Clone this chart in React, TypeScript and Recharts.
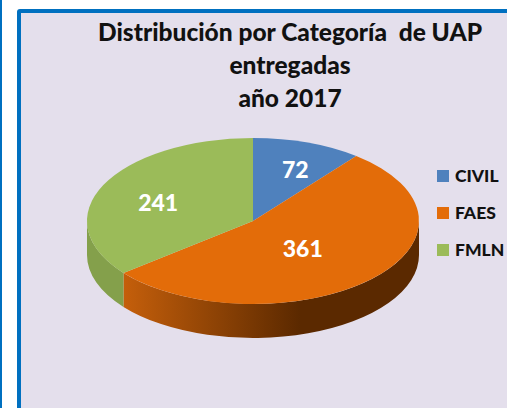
import { Pie, PieChart, Cell, Legend } from 'recharts'

const categories = ['CIVIL', 'FAES', 'FMLN']
const values = [72, 361, 241]
const topColors = ['#4F81BD', '#E36C09', '#9BBB59']
const wallColors = ['#3F6797', 'url(#faesWall)', '#84A04B']
const titleLines = ['Distribución por Categoría  de UAP', 'entregadas', 'año 2017']
const titleBaselines = [41, 74, 107]
// how far out each value label sits, as a share of the radius, plus a nudge in px
const labelRadius = [0.7, 0.44, 0.6]
const labelDx = [4, -2, -5]
const labelDy = [3, 1, 3]

const chartData = categories.map((name, i) => ({ name, value: values[i] }))

const TILT = 0.5
const DEPTH = 34
const RAD = Math.PI / 180

// recharts hands us a circular sector, squash it to look like the tilted disc
function TopFace(props: any) {
  const { cx, cy, outerRadius: r, startAngle, endAngle, fill } = props
  const x1 = cx + r * Math.cos(-startAngle * RAD)
  const y1 = cy + r * TILT * Math.sin(-startAngle * RAD)
  const x2 = cx + r * Math.cos(-endAngle * RAD)
  const y2 = cy + r * TILT * Math.sin(-endAngle * RAD)
  const large = Math.abs(startAngle - endAngle) > 180 ? 1 : 0
  return <path d={`M${cx},${cy}L${x1},${y1}A${r},${r * TILT} 0 ${large} 1 ${x2},${y2}Z`} fill={fill} />
}

// only the front half of the rim is visible
function SideWall(props: any) {
  const { cx, cy, outerRadius: r, startAngle, endAngle, fill } = props
  const from = Math.max(-startAngle, 0)
  const to = Math.min(-endAngle, 180)
  if (to <= from) return null
  const x1 = cx + r * Math.cos(from * RAD)
  const y1 = cy + r * TILT * Math.sin(from * RAD)
  const x2 = cx + r * Math.cos(to * RAD)
  const y2 = cy + r * TILT * Math.sin(to * RAD)
  return (
    <path
      d={`M${x1},${y1}A${r},${r * TILT} 0 0 1 ${x2},${y2}L${x2},${y2 + DEPTH}A${r},${r * TILT} 0 0 0 ${x1},${y1 + DEPTH}Z`}
      fill={fill}
    />
  )
}

function valueLabel(props: any) {
  const { cx, cy, midAngle, outerRadius, value, index } = props
  const r = outerRadius * labelRadius[index]
  return (
    <text
      x={cx + r * Math.cos(-midAngle * RAD) + labelDx[index]}
      y={cy + r * TILT * Math.sin(-midAngle * RAD) + labelDy[index]}
      fill="#FFFFFF"
      fontSize={23}
      fontWeight={900}
      textAnchor="middle"
      dominantBaseline="central"
    >
      {value}
    </text>
  )
}

function LegendList() {
  return (
    <div>
      {categories.map((name, i) => (
        <div key={name} style={{ display: 'flex', alignItems: 'center', height: 37 }}>
          <span style={{ width: 12, height: 12, background: topColors[i], marginRight: 6 }} />
          <span style={{ fontSize: 17.5, fontWeight: 900, color: '#111' }}>{name}</span>
        </div>
      ))}
    </div>
  )
}

export default function App() {
  return (
    <div style={{ position: 'absolute', left: 0, top: 0, width: 507, height: 408, overflow: 'hidden', background: '#fff', fontFamily: 'Lato' }}>
      <div style={{ position: 'absolute', left: 0, top: 0, width: 2, height: 408, background: '#0070C0' }} />
      <div
        style={{
          position: 'absolute',
          left: 17,
          top: 9,
          width: 500,
          height: 420,
          boxSizing: 'border-box',
          background: '#E4DFEC',
          border: '4px solid #0070C0',
          borderRadius: 3,
        }}
      />
      <div style={{ position: 'absolute', left: 0, top: 0 }}>
        <PieChart width={507} height={408} margin={{ top: 0, right: 0, bottom: 0, left: 0 }}>
          <defs>
            <linearGradient id="faesWall" gradientUnits="userSpaceOnUse" x1={123} y1={0} x2={300} y2={0}>
              <stop offset="0%" stopColor="#C55F0B" />
              <stop offset="100%" stopColor="#5B2900" />
            </linearGradient>
          </defs>
          <Pie
            data={chartData}
            dataKey="value"
            nameKey="name"
            cx={253}
            cy={221}
            outerRadius={166}
            startAngle={90}
            endAngle={-270}
            stroke="none"
            legendType="none"
            shape={SideWall}
            isAnimationActive={false}
          >
            {chartData.map((entry, i) => (
              <Cell key={entry.name} fill={wallColors[i]} />
            ))}
          </Pie>
          <Pie
            data={chartData}
            dataKey="value"
            nameKey="name"
            cx={253}
            cy={221}
            outerRadius={166}
            startAngle={90}
            endAngle={-270}
            stroke="none"
            shape={TopFace}
            label={valueLabel}
            labelLine={false}
            isAnimationActive={false}
          >
            {chartData.map((entry, i) => (
              <Cell key={entry.name} fill={topColors[i]} />
            ))}
          </Pie>
          <Legend
            content={<LegendList />}
            layout="vertical"
            wrapperStyle={{ position: 'absolute', left: 437, top: 157, width: 70, margin: 0 }}
          />
          {titleLines.map((line, i) => (
            <text
              key={line}
              x={290}
              y={titleBaselines[i]}
              textAnchor="middle"
              fontSize={24.5}
              fontWeight={900}
              fill="#111"
              xmlSpace="preserve"
            >
              {line}
            </text>
          ))}
        </PieChart>
      </div>
    </div>
  )
}
